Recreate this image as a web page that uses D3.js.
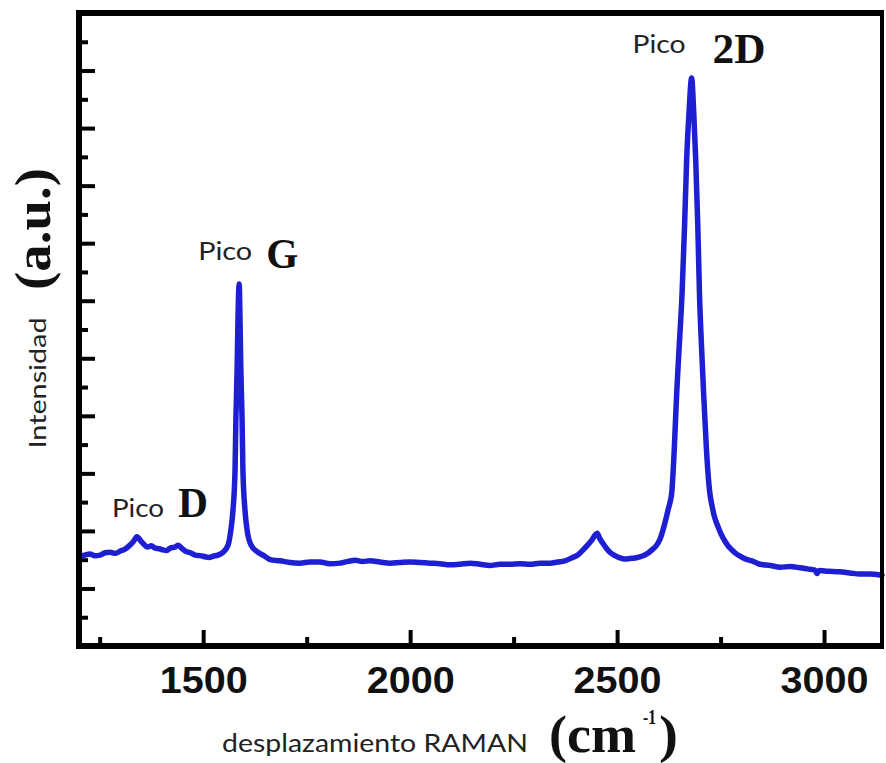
<!DOCTYPE html>
<html>
<head>
<meta charset="utf-8">
<script src="https://cdn.jsdelivr.net/npm/d3@7"></script>
<style>
  html, body { margin: 0; padding: 0; background: #fff; }
  svg { display: block; }
</style>
</head>
<body>
<svg id="chart" width="886" height="763"></svg>
<script>
// ---------------- DATA ----------------
const wavenumber = [
  1202,1214,1226,1238,1251,1263,1275,1288,1300,1310,1318,1331,1340,1350,1358,1365,1375,1384,1394,1403,
  1412,1420,1432,1440,1448,1457,1469,1481,1493,1505,1515,1524,1536,1548,1560,1567,1572,1577,1579,1582,
  1584,1587,1589,1591,1594,1596,1601,1606,1616,1632,1649,1662,1686,1710,1734,1758,1782,1806,1831,1850,
  1867,1885,1903,1927,1951,1975,2000,2024,2048,2072,2096,2120,2145,2169,2193,2217,2241,2265,2290,2314,
  2338,2356,2374,2390,2405,2418,2428,2438,2446,2452,2458,2466,2474,2484,2495,2507,2519,2531,2543,2555,
  2567,2576,2584,2592,2599,2605,2611,2617,2623,2628,2632,2638,2644,2650,2657,2663,2668,2674,2680,2685,
  2690,2695,2699,2704,2709,2716,2724,2729,2734,2744,2751,2759,2766,2773,2785,2797,2811,2826,2845,2870,
  2894,2918,2942,2960,2978,2983,2988,3010,3038,3062,3087,3110,3140
];
const intensity = [
  1.56,1.58,1.60,1.57,1.58,1.62,1.63,1.61,1.65,1.68,1.72,1.81,1.90,1.82,1.76,1.72,1.74,1.70,1.69,1.67,
  1.66,1.70,1.72,1.75,1.70,1.65,1.62,1.58,1.57,1.55,1.54,1.56,1.58,1.63,1.75,2.02,2.36,3.06,3.93,4.80,
  5.66,6.29,5.66,4.80,3.93,3.06,2.36,2.02,1.75,1.63,1.56,1.50,1.48,1.45,1.44,1.46,1.46,1.43,1.44,1.47,
  1.49,1.47,1.48,1.46,1.44,1.45,1.46,1.45,1.44,1.43,1.41,1.42,1.44,1.42,1.40,1.42,1.42,1.43,1.42,1.44,
  1.44,1.46,1.48,1.53,1.58,1.67,1.75,1.83,1.92,1.96,1.87,1.78,1.70,1.62,1.57,1.53,1.51,1.52,1.53,1.55,
  1.58,1.62,1.67,1.72,1.79,1.88,2.02,2.18,2.36,2.50,2.66,3.40,4.40,5.20,6.13,7.30,8.44,9.30,9.87,9.30,
  8.44,7.30,6.13,5.20,4.40,3.40,2.66,2.45,2.28,2.07,1.95,1.84,1.76,1.70,1.62,1.56,1.51,1.48,1.42,1.40,
  1.37,1.38,1.36,1.34,1.32,1.26,1.31,1.30,1.29,1.27,1.25,1.25,1.23
];
const xDomain = [1200, 3140];
const yDomain = [0, 11];
const xMajorTicks = [1500, 2000, 2500, 3000];
const xMinorTicks = [1250, 1750, 2250, 2750];
const yMajorTicks = [1, 2, 3, 4, 5, 6, 7, 8, 9, 10];
const yMinorTicks = [0.5, 1.5, 2.5, 3.5, 4.5, 5.5, 6.5, 7.5, 8.5, 9.5, 10.5];
const peakNames = ["D", "G", "2D"];
const peakWavenumber = [1340, 1587, 2680];
const peakIntensity = [1.90, 6.29, 9.87];
const peakPrefix = "Pico";
const xTitle = "desplazamiento RAMAN";
const xUnit = "(cm";
const xUnitSup = "-1";
const yTitle = "Intensidad";
const yUnit = "(a.u.)";

// ---------------- LAYOUT ----------------
const mLeft = 79, mRight = 882, mTop = 13, mBottom = 646;
const svg = d3.select("#chart");
const x = d3.scaleLinear().domain(xDomain).range([mLeft, mRight]);
const y = d3.scaleLinear().domain(yDomain).range([mBottom, mTop]);

// axes (ticks inward)
function styleAxis(g) {
  g.select(".domain").remove();
  g.selectAll(".tick line").attr("stroke", "#000").attr("stroke-width", 4);
}
svg.append("g").attr("transform", `translate(${mLeft},0)`)
  .call(d3.axisLeft(y).tickValues(yMajorTicks).tickSize(-16).tickFormat(""))
  .call(styleAxis);
svg.append("g").attr("transform", `translate(${mLeft},0)`)
  .call(d3.axisLeft(y).tickValues(yMinorTicks).tickSize(-9).tickFormat(""))
  .call(styleAxis);
svg.append("g").attr("transform", `translate(0,${mBottom})`)
  .call(d3.axisBottom(x).tickValues(xMinorTicks).tickSize(-9).tickFormat(""))
  .call(styleAxis);
const xAx = svg.append("g").attr("transform", `translate(0,${mBottom})`)
  .call(d3.axisBottom(x).tickValues(xMajorTicks).tickSize(-16).tickFormat(d3.format("d")))
  .call(styleAxis);
xAx.selectAll(".tick text")
  .attr("y", 47).attr("dy", null)
  .attr("font-family", "'Liberation Sans', Arial, sans-serif")
  .attr("font-weight", "bold")
  .attr("font-size", 36)
  .attr("fill", "#111")
  .attr("textLength", 88)
  .attr("lengthAdjust", "spacingAndGlyphs");

// spectrum
const pts = wavenumber.map((w, i) => [w, intensity[i]]);
svg.append("path")
  .datum(pts)
  .attr("fill", "none")
  .attr("stroke", "#1e1ed2")
  .attr("stroke-width", 5.5)
  .attr("stroke-linejoin", "round")
  .attr("stroke-linecap", "round")
  .attr("d", d3.line().x(d => x(d[0])).y(d => y(d[1])).curve(d3.curveMonotoneX));

// frame
const frame = svg.append("g").attr("stroke", "#000").attr("fill", "none");
frame.append("line").attr("x1", mLeft - 3).attr("x2", mRight + 2).attr("y1", mTop).attr("y2", mTop).attr("stroke-width", 6);
frame.append("line").attr("x1", mLeft - 3).attr("x2", mRight + 2).attr("y1", mBottom).attr("y2", mBottom).attr("stroke-width", 6);
frame.append("line").attr("x1", mLeft).attr("x2", mLeft).attr("y1", mTop - 3).attr("y2", mBottom + 3).attr("stroke-width", 6);
frame.append("line").attr("x1", mRight).attr("x2", mRight).attr("y1", mTop - 3).attr("y2", mBottom + 3).attr("stroke-width", 4);

// peak annotations (pixel offsets relative to each peak)
const annOffsets = {
  "D":  {px: -25, py: -20, pw: 52, lx: 41, ly: -20, lw: 30},
  "G":  {px: -41, py: -24, pw: 54, lx: 27, ly: -16, lw: 32},
  "2D": {px: -59, py: -25, pw: 53, lx: 21, ly: -15, lw: 53}
};
peakNames.forEach((name, i) => {
  const cx = x(peakWavenumber[i]), cy = y(peakIntensity[i]);
  const o = annOffsets[name];
  svg.append("text")
    .attr("x", cx + o.px).attr("y", cy + o.py)
    .attr("font-family", "Lato, 'Open Sans', sans-serif")
    .attr("font-size", 25)
    .attr("fill", "#222")
    .attr("textLength", o.pw).attr("lengthAdjust", "spacingAndGlyphs")
    .text(peakPrefix);
  svg.append("text")
    .attr("x", cx + o.lx).attr("y", cy + o.ly)
    .attr("font-family", "'Liberation Serif', 'Times New Roman', serif")
    .attr("font-weight", "bold")
    .attr("font-size", 42)
    .attr("fill", "#111")
    .attr("textLength", o.lw).attr("lengthAdjust", "spacingAndGlyphs")
    .text(name);
});

// x title
svg.append("text")
  .attr("x", 222).attr("y", 752)
  .attr("font-family", "Lato, 'Open Sans', sans-serif")
  .attr("font-size", 25)
  .attr("fill", "#222")
  .attr("textLength", 306).attr("lengthAdjust", "spacingAndGlyphs")
  .text(xTitle);
const serifBold = g => g.attr("font-family", "'Liberation Serif', 'Times New Roman', serif").attr("font-weight", "bold").attr("fill", "#111");
svg.append("text").attr("x", 549).attr("y", 752).attr("font-size", 52)
  .attr("textLength", 87).attr("lengthAdjust", "spacingAndGlyphs").call(serifBold).text(xUnit);
svg.append("text").attr("x", 643).attr("y", 724).attr("font-size", 20)
  .attr("textLength", 13).attr("lengthAdjust", "spacingAndGlyphs").call(serifBold).text(xUnitSup);
svg.append("text").attr("x", 659).attr("y", 752).attr("font-size", 52)
  .attr("textLength", 19).attr("lengthAdjust", "spacingAndGlyphs").call(serifBold).text(")");

// y title
svg.append("text")
  .attr("transform", "translate(46,383) rotate(-90)")
  .attr("text-anchor", "middle")
  .attr("font-family", "Lato, 'Open Sans', sans-serif")
  .attr("font-size", 24)
  .attr("fill", "#222")
  .attr("textLength", 131).attr("lengthAdjust", "spacingAndGlyphs")
  .text(yTitle);
svg.append("text")
  .attr("transform", "translate(50,229) rotate(-90)")
  .attr("text-anchor", "middle")
  .attr("font-size", 50)
  .attr("textLength", 122).attr("lengthAdjust", "spacingAndGlyphs")
  .call(serifBold)
  .text(yUnit);
</script>
</body>
</html>
